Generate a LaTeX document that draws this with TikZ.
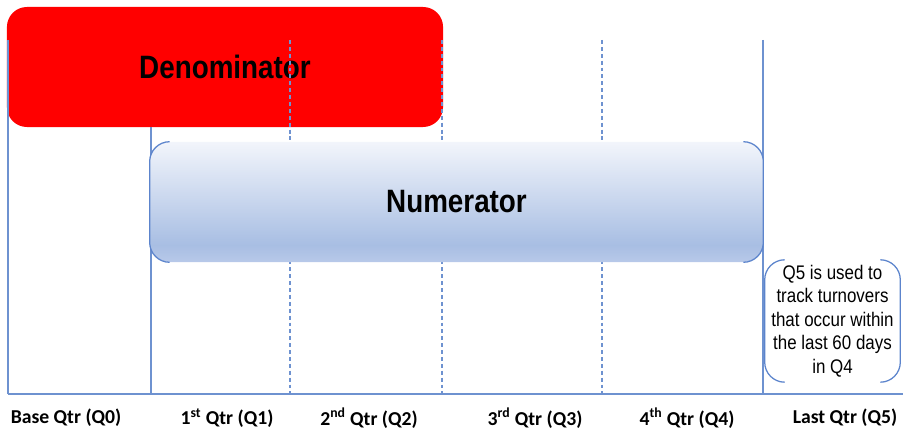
\documentclass[tikz,border=0pt]{standalone}
\usepackage{fontspec}
\setmainfont{Liberation Sans}
\newfontfamily\labelfont{Carlito}
\usetikzlibrary{positioning}
\definecolor{gridblue}{RGB}{110,146,208}
\definecolor{bracketblue}{RGB}{92,132,204}
\definecolor{denomred}{RGB}{255,0,0}
\definecolor{numtop}{RGB}{242,245,251}
\definecolor{numdark}{RGB}{168,190,227}
\definecolor{numlow}{RGB}{184,201,233}
\pgfdeclareverticalshading{numshade}{100bp}{color(0bp)=(numlow); color(25bp)=(numlow); color(32bp)=(numdark); color(75bp)=(numtop); color(100bp)=(numtop)}
% narrow (condensed) text
\newcommand{\narrow}[1]{\scalebox{0.86}[1]{#1}}

\tikzset{
  gridline/.style={draw=gridblue, line width=0.8pt},
  griddash/.style={gridline, dash pattern=on 2.8pt off 2.1pt},
  bracket/.style={draw=bracketblue, line width=0.9pt, rounded corners=0.5cm},
  bartext/.style={font=\bfseries\fontsize{23}{27}\selectfont},
  qtrlabel/.style={font=\labelfont\bfseries\fontsize{14}{16}\selectfont},
}

\begin{document}
\begin{tikzpicture}[x=0.025cm, y=-0.025cm]
    \useasboundingbox (0,0) rectangle (903,432);

    % Denominator bar
    \node[fill=denomred, rounded corners=0.5cm, minimum width=10.9cm, minimum height=3cm,
          bartext] (denom) at (225,67) {\narrow{Denominator}};

    % quarter grid
    \draw[gridline] (8,40) -- (8,394);
    \draw[gridline] (151,127) -- (151,394);
    \draw[gridline] (763,40) -- (763,394);
    \foreach \x in {290,442,602}
        \draw[griddash] (\x,40) -- (\x,394);
    \draw[gridline] (8,394) -- (903,394);

    % Numerator bar
    \node[shading=numshade, rounded corners=0.5cm, minimum width=15.325cm, minimum height=3cm,
          bartext] (num) at (456.5,202) {\narrow{Numerator}};
    \draw[bracket] ([xshift=0.5cm]num.north west) -- (num.north west) -- (num.south west) -- ([xshift=0.5cm]num.south west);
    \draw[bracket] ([xshift=-0.5cm]num.north east) -- (num.north east) -- (num.south east) -- ([xshift=-0.5cm]num.south east);

    % Q5 note
    \node[minimum width=3.375cm, minimum height=2.95cm, align=center,
          font=\fontsize{14}{16.8}\selectfont] (note) at (832.5,321)
          {\narrow{Q5 is used to}\\\narrow{track turnovers}\\\narrow{that occur within}\\\narrow{the last 60 days}\\\narrow{in Q4}};
    \draw[bracket] ([xshift=0.5cm]note.north west) -- (note.north west) -- (note.south west) -- ([xshift=0.5cm]note.south west);
    \draw[bracket] ([xshift=-0.5cm]note.north east) -- (note.north east) -- (note.south east) -- ([xshift=-0.5cm]note.south east);

    % quarter labels
    \node[qtrlabel] (q0) at (66,418) {Base Qtr (Q0)};
    \node[qtrlabel] (q1) at (227,418) {1\textsuperscript{st} Qtr (Q1)};
    \node[qtrlabel] (q2) at (369,418) {2\textsuperscript{nd} Qtr (Q2)};
    \node[qtrlabel] (q3) at (535,418) {3\textsuperscript{rd} Qtr (Q3)};
    \node[qtrlabel] (q4) at (687,418) {4\textsuperscript{th} Qtr (Q4)};
    \node[qtrlabel] (q5) at (845,418) {Last Qtr (Q5)};
\end{tikzpicture}
\end{document}
